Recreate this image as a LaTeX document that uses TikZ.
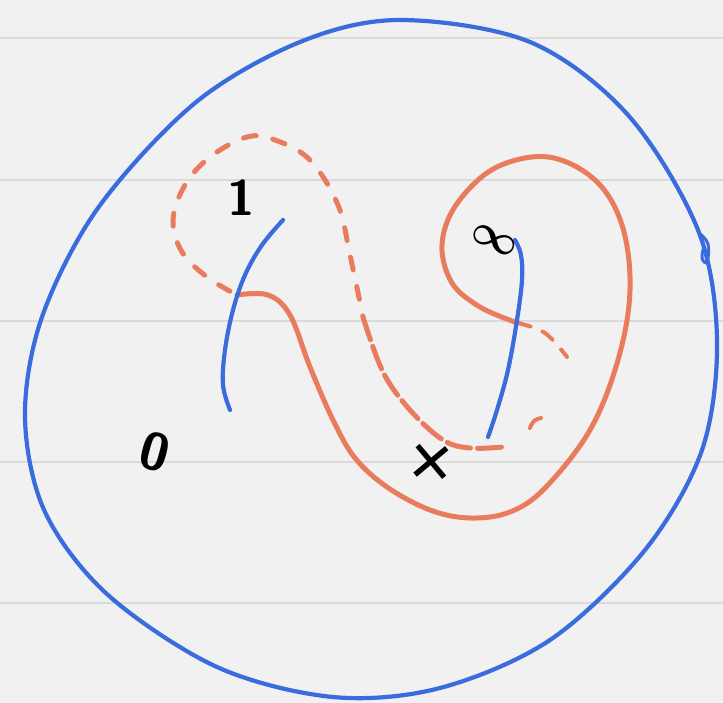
\documentclass[tikz,border=0pt]{standalone}
\usepackage{fontspec}
\newfontfamily\plusfont{DejaVu Sans}
\begin{document}
\begin{tikzpicture}[x=1pt,y=-1pt,
  bluepen/.style={draw=penblue,line width=4.2pt,line cap=round,line join=round},
  orangepen/.style={draw=penorange,line width=5pt,line cap=round,line join=round},
  ruling/.style={draw=ruleGray,line width=1.2pt},
  handlabel/.style={text=black,inner sep=0pt}]
\definecolor{penblue}{RGB}{58,108,222}
\definecolor{penorange}{RGB}{234,124,94}
\definecolor{paper}{RGB}{241,241,241}
\definecolor{ruleGray}{RGB}{218,218,218}
% background
\fill[paper] (0,0) rectangle (723,703);
\useasboundingbox (0,0) rectangle (723,703);
\foreach \yy in {38,180,321,462,603} \draw[ruling] (0,\yy) -- (723,\yy);
% big blue circle
\draw[bluepen] plot[smooth cycle,tension=0.55] coordinates {
 (400,20) (530,42) (628,115) (698,230) (717,340) (702,450) (645,550)
 (550,640) (440,688) (333,697) (217,667) (108,595) (45,512) (25,417)
 (42,317) (98,208) (195,103) (300,42)};
\draw[bluepen,line width=3pt] plot[smooth,tension=0.7] coordinates {
 (699,233) (708,244) (707,262) (702,258) (704,246)};
% orange solid loop
\draw[orangepen] plot[smooth,tension=0.6] coordinates {
 (237,295) (268,295) (290,315) (310,367) (333,420) (355,458) (387,487)
 (430,510) (470,518) (510,512) (545,488) (590,430) (618,360) (630,290)
 (622,225) (595,180) (548,157) (495,168) (456,205) (442,245) (452,283)
 (480,307) (515,322)};
% orange dashed (hidden) parts
\draw[orangepen,dash pattern=on 13pt off 17pt,dash phase=22pt] plot[smooth,tension=0.6] coordinates {
 (237,295) (207,277) (182,252) (173,220) (185,185) (210,157) (247,137)
 (275,140) (310,160) (338,205) (350,255) (363,317)};
\draw[orangepen,dash pattern=on 24pt off 7pt] plot[smooth,tension=0.6] coordinates {
 (363,317) (383,372) (410,410) (443,440) (470,448) (503,447)};
\draw[orangepen,line width=4pt,dash pattern=on 13pt off 13pt] plot[smooth,tension=0.6] coordinates {
 (518,323) (545,333) (567,357)};
\draw[orangepen,line width=4pt] plot[smooth,tension=0.7] coordinates {
 (530,428) (534,421) (541,418)};
% blue arcs
\draw[bluepen] plot[smooth,tension=0.6] coordinates {
 (283,220) (262,245) (245,275) (233,310) (225,350) (223,385) (230,410)};
\draw[bluepen] plot[smooth,tension=0.6] coordinates {
 (515,240) (521,255) (522,280) (517,320) (508,370) (497,410) (488,437)};
% labels
\node[handlabel,font=\sffamily\bfseries\fontsize{50}{50}\selectfont] (one) at (241,198) {1};
\node[handlabel,rotate=-25,scale=4.2,font=\boldmath] (infty) at (494,240) {$\infty$};
\node[handlabel,rotate=-15,font=\sffamily\bfseries\fontsize{52}{52}\selectfont] (zero) at (155,452) {0};
\node[handlabel,rotate=40,font=\plusfont\fontsize{66}{66}\selectfont] (plus) at (431,462) {+};
\end{tikzpicture}
\end{document}
